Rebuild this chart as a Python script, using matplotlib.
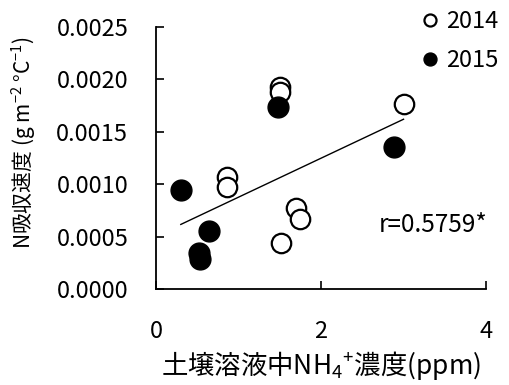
import numpy as np
import matplotlib
matplotlib.use("Agg")
import matplotlib.pyplot as plt

plt.rcParams['font.family'] = ['Noto Sans CJK JP', 'DejaVu Sans']
plt.rcParams['mathtext.fontset'] = 'custom'
plt.rcParams['mathtext.rm'] = 'Noto Sans CJK JP'
plt.rcParams['mathtext.it'] = 'Noto Sans CJK JP'

x2014 = [0.86, 0.86, 1.50, 1.50, 3.00, 1.70, 1.75, 1.52]
y2014 = [0.00107, 0.00097, 0.00193, 0.00188, 0.00177, 0.00077, 0.00067, 0.00044]
x2015 = [0.30, 0.64, 0.52, 0.53, 1.48, 2.88]
y2015 = [0.00095, 0.00055, 0.00034, 0.00029, 0.00174, 0.00136]
trend_x = [0.30, 3.00]
trend_y = [0.000617, 0.00162]
xticks = [0, 2, 4]
yticks = [0.0, 0.0005, 0.0010, 0.0015, 0.0020, 0.0025]
r_text = "r=0.5759*"

fig = plt.figure(figsize=(5.1, 3.85), dpi=100)
ax = fig.add_axes([0.306, 0.249, 0.647, 0.681])

ax.plot(x2014, y2014, 'o', ms=14, mfc='white', mec='black', mew=1.6,
        linestyle='none', label='2014', zorder=3)
ax.plot(x2015, y2015, 'o', ms=15, mfc='black', mec='black',
        linestyle='none', label='2015', zorder=3)

ax.plot(trend_x, trend_y, color='black', lw=1.0, zorder=2)

ax.text(3.36, 0.00061, r_text, fontsize=17.5, ha='center', va='center')

ax.set_xlim(0, 4)
ax.set_ylim(0, 0.0025)
ax.set_xticks(xticks)
ax.set_xticklabels([str(t) for t in xticks])
ax.set_yticks(yticks)
ax.set_yticklabels([f"{t:.4f}" for t in yticks])
ax.tick_params(direction='in', length=6, width=1.2, labelsize=17)
ax.tick_params(axis='y', pad=20)
ax.tick_params(axis='x', pad=22)
for s in ['top', 'right']:
    ax.spines[s].set_visible(False)
ax.spines['left'].set_linewidth(1.3)
ax.spines['bottom'].set_linewidth(1.3)

ax.set_xlabel("土壌溶液中NH$_4$$^{+}$濃度(ppm)", fontsize=19)
ax.set_ylabel("N吸収速度 (g m$^{-2}$ °C$^{-1}$)", fontsize=15)
ax.xaxis.set_label_coords(0.5, -0.228)
ax.yaxis.set_label_coords(-0.358, 0.557)

fig.legend(loc='upper left', bbox_to_anchor=(0.815, 0.985), frameon=False,
           fontsize=17, handletextpad=0.3, handlelength=0.8,
           markerscale=0.62, borderaxespad=0, borderpad=0.2,
           labelspacing=0.65)

fig.savefig("out.png", dpi=100)
